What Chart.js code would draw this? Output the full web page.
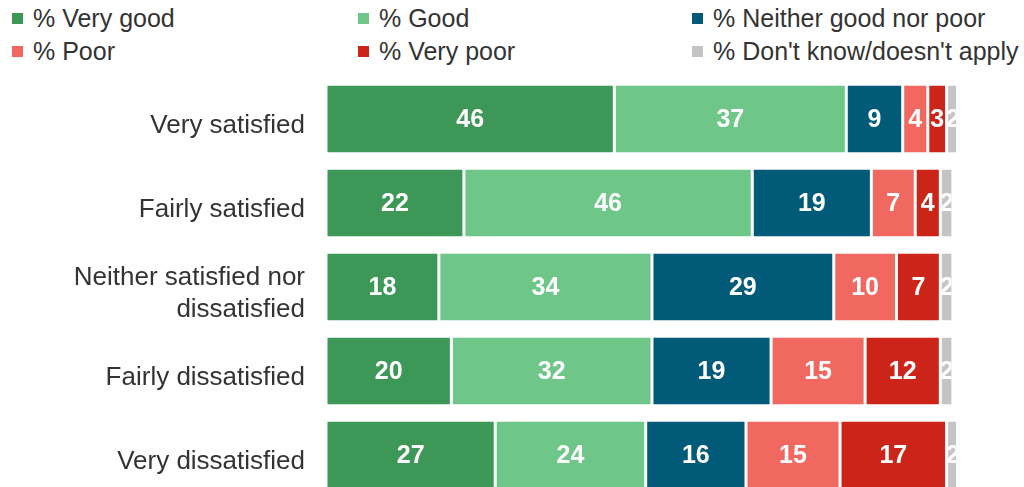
<!DOCTYPE html>
<html>
<head>
<meta charset="utf-8">
<script src="https://cdn.jsdelivr.net/npm/chart.js@4/dist/chart.umd.min.js"></script>
<style>
  html, body { margin: 0; padding: 0; background: #fff; overflow: hidden; width: 1024px; height: 487px; }
  body { font-family: "Liberation Sans", Arial, sans-serif; position: relative; }
  #legend { position: absolute; left: 0; top: 0; width: 1024px; height: 70px; }
  .item { position: absolute; display: flex; align-items: center; font-size: 25px; color: #333; white-space: nowrap; }
  .box { width: 11px; height: 11px; margin-right: 10px; }
  #wrap { position: absolute; left: 0; top: 77px; width: 1024px; height: 420px; }
</style>
</head>
<body>
<div id="legend"></div>
<div id="wrap"><canvas id="satChart"></canvas></div>
<script>
// categories and series
const categories = [
  'Very satisfied',
  'Fairly satisfied',
  ['Neither satisfied nor', 'dissatisfied'],
  'Fairly dissatisfied',
  'Very dissatisfied'
];
const seriesNames = ['% Very good', '% Good', '% Neither good nor poor', '% Poor', '% Very poor', "% Don't know/doesn't apply"];
const seriesColors = ['#3d9858', '#6ec689', '#005a78', '#f0685f', '#cc2418', '#c4c4c4'];

const veryGood = [46, 22, 18, 20, 27];
const good     = [37, 46, 34, 32, 24];
const neither  = [9, 19, 29, 19, 16];
const poor     = [4, 7, 10, 15, 15];
const veryPoor = [3, 4, 7, 12, 17];
const dontKnow = [2, 2, 2, 2, 2];

const series = [veryGood, good, neither, poor, veryPoor, dontKnow];

// legend (3 columns x 2 rows)
const legendCols = [12, 358, 692];
const legendRows = [18, 51];
const legendEl = document.getElementById('legend');
seriesNames.forEach((name, i) => {
  const it = document.createElement('div');
  it.className = 'item';
  it.style.left = legendCols[i % 3] + 'px';
  it.style.top = (legendRows[Math.floor(i / 3)] - 14) + 'px';
  it.style.height = '28px';
  const b = document.createElement('span');
  b.className = 'box';
  b.style.background = seriesColors[i];
  it.appendChild(b);
  it.appendChild(document.createTextNode(name));
  legendEl.appendChild(it);
});

// value labels clipped to their bar
const barLabels = {
  id: 'barLabels',
  afterDatasetsDraw(chart) {
    const ctx = chart.ctx;
    chart.data.datasets.forEach((ds, di) => {
      const meta = chart.getDatasetMeta(di);
      meta.data.forEach((bar, i) => {
        const { x, y, base, height } = bar.getProps(['x', 'y', 'base', 'height'], true);
        const left = Math.min(x, base), w = Math.abs(x - base);
        ctx.save();
        ctx.beginPath();
        ctx.rect(left + 1.5, y - height / 2, w - 3, height);
        ctx.clip();
        ctx.fillStyle = '#fff';
        ctx.font = 'bold 25px "Liberation Sans", Arial, sans-serif';
        ctx.textAlign = 'center';
        ctx.textBaseline = 'middle';
        ctx.fillText(String(ds.data[i]), left + w / 2, y + 1);
        ctx.restore();
      });
    });
  }
};

const ctx = document.getElementById('satChart');
new Chart(ctx, {
  type: 'bar',
  data: {
    labels: categories,
    datasets: series.map((d, i) => ({
      label: seriesNames[i],
      data: d,
      backgroundColor: seriesColors[i],
      borderColor: '#fff',
      borderWidth: { left: 1.5, right: 1.5, top: 0, bottom: 0 },
      borderSkipped: false,
      categoryPercentage: 1,
      barPercentage: 0.8
    }))
  },
  options: {
    indexAxis: 'y',
    responsive: true,
    maintainAspectRatio: false,
    animation: false,
    layout: { padding: { left: 0, right: 68, top: 0, bottom: 0 } },
    plugins: { legend: { display: false }, tooltip: { enabled: false } },
    scales: {
      x: { stacked: true, min: 0, max: 100.5, display: false },
      y: {
        stacked: true,
        grid: { display: false },
        border: { display: false },
        ticks: {
          color: '#333',
          padding: 13,
          labelOffset: 7,
          font: { family: '"Liberation Sans", Arial, sans-serif', size: 26, lineHeight: 1.25 }
        },
        afterFit(scale) {
          scale.width = 326;
          scale.paddingTop = 0;
          scale.paddingBottom = 0;
        }
      }
    }
  },
  plugins: [barLabels]
});
</script>
</body>
</html>
